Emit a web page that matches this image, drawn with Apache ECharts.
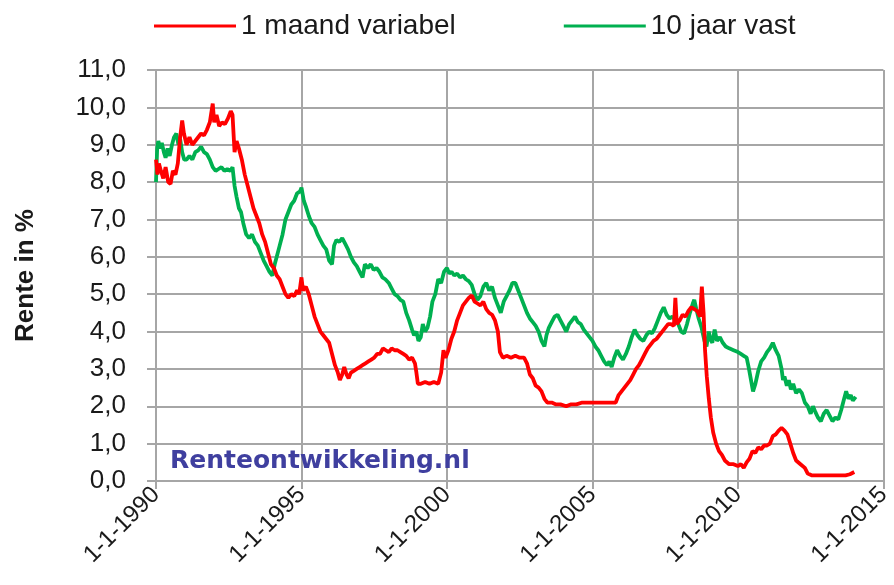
<!DOCTYPE html>
<html>
<head>
<meta charset="utf-8">
<script src="https://cdn.jsdelivr.net/npm/echarts@6/dist/echarts.min.js"></script>
<style>html,body{margin:0;padding:0;background:#fff;}#c{width:894px;height:585px;}</style>
</head>
<body>
<div id="c"></div>
<script>
const seriesNames = ['1 maand variabel', '10 jaar vast'];
const xTicks = [1990, 1995, 2000, 2005, 2010, 2015];
const yTicks = [0, 1, 2, 3, 4, 5, 6, 7, 8, 9, 10, 11];

// [year, rate %]
const variabel1m = [
[1990.00,8.6],[1990.05,8.2],[1990.10,8.5],[1990.17,8.3],[1990.25,8.1],[1990.33,8.4],[1990.42,8.0],[1990.50,7.95],
[1990.58,8.3],[1990.67,8.2],[1990.75,8.5],[1990.83,9.2],[1990.90,9.65],[1990.96,9.3],[1991.05,9.0],[1991.15,9.2],
[1991.25,9.0],[1991.35,9.1],[1991.45,9.2],[1991.55,9.3],[1991.65,9.25],[1991.75,9.4],[1991.85,9.6],[1991.95,10.1],
[1992.00,9.6],[1992.08,9.8],[1992.17,9.5],[1992.27,9.6],[1992.37,9.55],[1992.47,9.7],[1992.57,9.9],[1992.63,9.8],
[1992.70,8.8],[1992.77,9.1],[1992.85,8.9],[1992.95,8.6],[1993.05,8.2],[1993.15,7.9],[1993.25,7.6],[1993.35,7.3],
[1993.45,7.1],[1993.55,6.9],[1993.65,6.6],[1993.75,6.4],[1993.85,6.1],[1993.95,5.8],[1994.05,5.7],[1994.15,5.5],
[1994.25,5.4],[1994.35,5.2],[1994.45,5.0],[1994.55,4.9],[1994.65,5.0],[1994.75,4.95],[1994.85,5.1],[1994.92,5.0],
[1995.00,5.45],[1995.05,5.1],[1995.15,5.2],[1995.25,5.0],[1995.35,4.7],[1995.45,4.4],[1995.55,4.2],[1995.65,4.0],
[1995.75,3.9],[1995.85,3.8],[1995.95,3.7],[1996.05,3.4],[1996.15,3.1],[1996.25,2.9],[1996.32,2.7],[1996.40,2.85],
[1996.47,3.05],[1996.55,2.85],[1996.62,2.75],[1996.70,2.9],[1996.80,2.95],[1996.90,3.0],[1997.00,3.05],[1997.10,3.1],
[1997.20,3.15],[1997.30,3.2],[1997.40,3.25],[1997.50,3.3],[1997.60,3.4],[1997.70,3.4],[1997.80,3.55],[1997.90,3.5],
[1998.00,3.45],[1998.10,3.55],[1998.20,3.5],[1998.30,3.5],[1998.40,3.45],[1998.50,3.4],[1998.60,3.35],[1998.70,3.25],
[1998.80,3.3],[1998.90,3.15],[1998.95,2.9],[1999.00,2.6],[1999.10,2.6],[1999.25,2.65],[1999.40,2.6],[1999.55,2.65],
[1999.70,2.6],[1999.80,2.9],[1999.88,3.5],[1999.95,3.3],[2000.05,3.5],[2000.15,3.8],[2000.25,4.0],[2000.35,4.3],
[2000.45,4.5],[2000.55,4.7],[2000.65,4.8],[2000.75,4.9],[2000.85,4.97],[2000.95,4.8],[2001.05,4.75],[2001.15,4.7],
[2001.25,4.8],[2001.35,4.6],[2001.45,4.5],[2001.55,4.45],[2001.65,4.3],[2001.75,4.0],[2001.82,3.45],[2001.92,3.3],
[2002.05,3.35],[2002.20,3.3],[2002.35,3.35],[2002.50,3.3],[2002.65,3.3],[2002.75,3.15],[2002.85,2.85],[2002.95,2.75],
[2003.05,2.55],[2003.15,2.5],[2003.25,2.4],[2003.35,2.2],[2003.45,2.1],[2003.60,2.1],[2003.75,2.05],[2003.90,2.05],
[2004.10,2.0],[2004.25,2.05],[2004.45,2.05],[2004.65,2.1],[2004.85,2.1],[2005.05,2.1],[2005.30,2.1],[2005.55,2.1],
[2005.80,2.1],[2005.90,2.3],[2006.00,2.4],[2006.10,2.5],[2006.20,2.6],[2006.30,2.7],[2006.40,2.85],[2006.50,3.0],
[2006.60,3.1],[2006.70,3.25],[2006.80,3.4],[2006.90,3.55],[2007.00,3.65],[2007.10,3.75],[2007.20,3.8],[2007.30,3.9],
[2007.40,4.0],[2007.50,4.1],[2007.60,4.2],[2007.70,4.2],[2007.80,4.15],[2007.85,4.9],[2007.90,4.2],[2008.00,4.3],
[2008.10,4.45],[2008.20,4.4],[2008.30,4.55],[2008.40,4.65],[2008.50,4.6],[2008.60,4.55],[2008.70,4.4],[2008.76,5.2],
[2008.82,4.5],[2008.87,3.5],[2008.93,2.8],[2009.00,2.2],[2009.07,1.7],[2009.15,1.3],[2009.25,1.0],[2009.35,0.8],
[2009.45,0.7],[2009.55,0.55],[2009.70,0.45],[2009.85,0.45],[2010.00,0.4],[2010.10,0.45],[2010.20,0.35],[2010.30,0.5],
[2010.40,0.6],[2010.50,0.8],[2010.60,0.75],[2010.70,0.9],[2010.80,0.85],[2010.90,0.95],[2011.00,0.95],[2011.10,1.0],
[2011.20,1.2],[2011.30,1.25],[2011.40,1.35],[2011.50,1.42],[2011.60,1.35],[2011.70,1.25],[2011.80,1.0],[2011.90,0.75],
[2012.00,0.55],[2012.15,0.45],[2012.30,0.35],[2012.40,0.2],[2012.55,0.15],[2012.80,0.15],[2013.10,0.15],[2013.40,0.15],
[2013.70,0.15],[2013.85,0.18],[2014.00,0.24]
];

const vast10j = [
[1990.00,8.0],[1990.04,8.9],[1990.08,9.1],[1990.14,8.9],[1990.20,9.05],[1990.27,8.8],[1990.33,8.65],[1990.40,8.9],
[1990.47,8.7],[1990.55,9.0],[1990.62,9.2],[1990.70,9.3],[1990.77,9.0],[1990.83,9.15],[1990.90,8.8],[1990.97,8.6],
[1991.05,8.6],[1991.15,8.7],[1991.25,8.6],[1991.35,8.8],[1991.45,8.85],[1991.55,8.95],[1991.65,8.8],[1991.75,8.75],
[1991.85,8.6],[1991.95,8.4],[1992.05,8.3],[1992.15,8.35],[1992.25,8.4],[1992.35,8.3],[1992.45,8.35],[1992.55,8.3],
[1992.63,8.4],[1992.70,7.9],[1992.77,7.6],[1992.85,7.3],[1992.92,7.2],[1993.00,6.9],[1993.10,6.6],[1993.20,6.5],
[1993.30,6.6],[1993.40,6.4],[1993.50,6.3],[1993.60,6.1],[1993.70,5.9],[1993.80,5.75],[1993.90,5.6],[1994.00,5.5],
[1994.08,5.8],[1994.15,6.0],[1994.25,6.3],[1994.35,6.6],[1994.45,7.0],[1994.55,7.2],[1994.65,7.4],[1994.75,7.5],
[1994.85,7.7],[1994.95,7.75],[1995.00,7.85],[1995.08,7.5],[1995.15,7.35],[1995.25,7.1],[1995.35,6.9],[1995.45,6.8],
[1995.55,6.6],[1995.65,6.45],[1995.75,6.3],[1995.85,6.2],[1995.95,5.9],[1996.05,5.8],[1996.12,6.3],[1996.20,6.45],
[1996.30,6.4],[1996.40,6.5],[1996.50,6.35],[1996.60,6.2],[1996.70,6.0],[1996.80,5.85],[1996.90,5.75],[1997.00,5.6],
[1997.10,5.45],[1997.18,5.8],[1997.28,5.7],[1997.38,5.8],[1997.48,5.65],[1997.58,5.7],[1997.68,5.6],[1997.78,5.45],
[1997.88,5.4],[1998.00,5.3],[1998.10,5.15],[1998.20,5.0],[1998.30,4.95],[1998.40,4.85],[1998.50,4.8],[1998.60,4.5],
[1998.70,4.3],[1998.80,4.05],[1998.87,3.9],[1998.95,4.0],[1999.02,3.75],[1999.10,3.85],[1999.17,4.2],[1999.25,4.0],
[1999.33,4.1],[1999.42,4.4],[1999.50,4.8],[1999.60,5.0],[1999.70,5.4],[1999.80,5.3],[1999.90,5.6],[2000.00,5.7],
[2000.08,5.55],[2000.16,5.6],[2000.25,5.5],[2000.35,5.55],[2000.45,5.45],[2000.55,5.5],[2000.65,5.4],[2000.75,5.35],
[2000.85,5.25],[2000.95,5.0],[2001.05,4.85],[2001.15,4.95],[2001.25,5.2],[2001.35,5.3],[2001.45,5.1],[2001.55,5.2],
[2001.65,4.9],[2001.75,4.7],[2001.85,4.5],[2001.95,4.8],[2002.05,4.95],[2002.15,5.1],[2002.25,5.3],[2002.35,5.3],
[2002.45,5.1],[2002.55,4.9],[2002.65,4.7],[2002.75,4.5],[2002.85,4.35],[2002.95,4.25],[2003.05,4.15],[2003.15,4.0],
[2003.25,3.75],[2003.35,3.6],[2003.42,3.9],[2003.50,4.1],[2003.60,4.25],[2003.70,4.4],[2003.80,4.45],[2003.90,4.3],
[2004.00,4.15],[2004.10,4.0],[2004.20,4.2],[2004.30,4.3],[2004.40,4.4],[2004.50,4.25],[2004.60,4.2],[2004.70,4.05],
[2004.80,3.95],[2004.90,3.85],[2005.00,3.75],[2005.10,3.6],[2005.20,3.5],[2005.30,3.35],[2005.40,3.2],[2005.50,3.1],
[2005.58,3.2],[2005.66,3.05],[2005.75,3.3],[2005.85,3.5],[2005.95,3.35],[2006.05,3.25],[2006.15,3.4],[2006.25,3.6],
[2006.35,3.85],[2006.45,4.05],[2006.55,3.9],[2006.65,3.8],[2006.75,3.75],[2006.85,3.9],[2006.95,4.0],[2007.05,3.95],
[2007.15,4.1],[2007.25,4.3],[2007.35,4.5],[2007.45,4.65],[2007.55,4.45],[2007.65,4.35],[2007.75,4.4],[2007.85,4.3],
[2007.95,4.2],[2008.05,4.0],[2008.15,3.95],[2008.25,4.2],[2008.35,4.5],[2008.45,4.75],[2008.50,4.85],[2008.57,4.6],
[2008.65,4.35],[2008.75,4.1],[2008.85,3.75],[2008.92,3.6],[2009.00,4.0],[2009.05,3.8],[2009.12,3.7],[2009.20,4.05],
[2009.28,3.75],[2009.38,3.85],[2009.48,3.7],[2009.58,3.6],[2009.70,3.55],[2009.85,3.5],[2010.00,3.45],[2010.10,3.4],
[2010.20,3.35],[2010.30,3.3],[2010.38,3.0],[2010.45,2.7],[2010.52,2.4],[2010.60,2.6],[2010.70,2.95],[2010.80,3.2],
[2010.90,3.3],[2011.00,3.45],[2011.10,3.55],[2011.20,3.7],[2011.30,3.5],[2011.40,3.35],[2011.50,3.0],[2011.55,2.7],
[2011.60,2.8],[2011.68,2.55],[2011.75,2.7],[2011.82,2.45],[2011.90,2.6],[2012.00,2.35],[2012.10,2.45],[2012.20,2.35],
[2012.30,2.1],[2012.40,2.0],[2012.50,1.8],[2012.58,2.0],[2012.66,1.85],[2012.75,1.7],[2012.85,1.6],[2012.95,1.8],
[2013.05,1.9],[2013.15,1.75],[2013.25,1.6],[2013.35,1.7],[2013.45,1.65],[2013.55,1.9],[2013.65,2.2],[2013.72,2.4],
[2013.80,2.2],[2013.88,2.3],[2013.95,2.15],[2014.05,2.25]
];

const chart = echarts.init(document.getElementById('c'), null, {renderer: 'canvas'});
const FONT = 'Liberation Sans';
const GRIDC = '#a6a6a6';
chart.setOption({
  animation: false,
  backgroundColor: '#ffffff',
  textStyle: {fontFamily: FONT},
  legend: {
    left: 149, top: 7,
    itemWidth: 82, itemHeight: 3, itemGap: 108,
    icon: 'rect',
    textStyle: {fontFamily: FONT, fontSize: 28, color: '#1a1a1a'},
    data: seriesNames
  },
  grid: {left: 156, right: 7, top: 70, bottom: 104, containLabel: false},
  xAxis: {
    type: 'value', min: xTicks[0], max: xTicks[xTicks.length - 1], interval: 5,
    axisLine: {show: true, lineStyle: {color: GRIDC, width: 2}},
    axisTick: {show: true, length: 8, lineStyle: {color: GRIDC, width: 2}},
    splitLine: {show: true, lineStyle: {color: GRIDC, width: 2}},
    axisLabel: {rotate: 45, margin: 10, fontSize: 24, color: '#1a1a1a', fontFamily: FONT,
      formatter: v => '1-1-' + v}
  },
  yAxis: {
    type: 'value', min: yTicks[0], max: yTicks[yTicks.length - 1], interval: 1,
    name: 'Rente in %', nameLocation: 'middle', nameGap: 117, nameRotate: 90,
    nameTextStyle: {fontSize: 26, fontWeight: 'bold', color: '#1a1a1a', fontFamily: FONT},
    axisLine: {show: true, lineStyle: {color: GRIDC, width: 2}},
    axisTick: {show: true, length: 9, inside: false, lineStyle: {color: GRIDC, width: 2}},
    splitLine: {show: true, lineStyle: {color: GRIDC, width: 2}},
    axisLabel: {margin: 30, fontSize: 26, color: '#1a1a1a', fontFamily: FONT,
      formatter: v => v.toFixed(1).replace('.', ',')}
  },
  graphic: [{
    type: 'text', left: 170, top: 449, z: 10,
    style: {text: 'Renteontwikkeling.nl', font: 'bold 25px "DejaVu Sans"', fill: '#3f3f9f'}
  }],
  series: [
    {name: seriesNames[0], type: 'line', data: variabel1m, showSymbol: false, symbol: 'none',
      lineStyle: {color: '#ff0000', width: 3.8}, itemStyle: {color: '#ff0000'}, z: 3},
    {name: seriesNames[1], type: 'line', data: vast10j, showSymbol: false, symbol: 'none',
      lineStyle: {color: '#00b050', width: 3.8}, itemStyle: {color: '#00b050'}, z: 2}
  ]
});
</script>
</body>
</html>
